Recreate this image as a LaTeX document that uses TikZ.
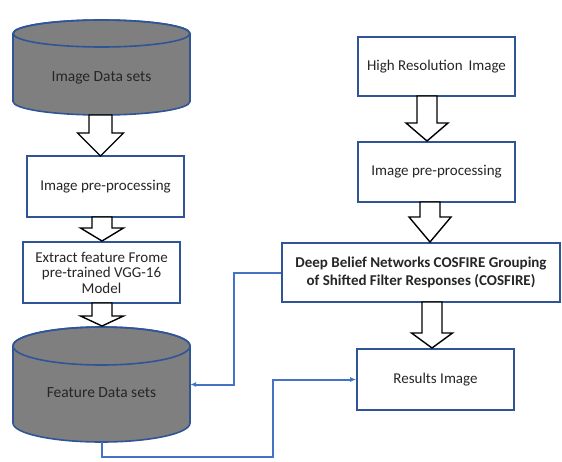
\documentclass[tikz,border=0pt]{standalone}
\usepackage{fontspec}
\setmainfont{Carlito}
\definecolor{boxblue}{HTML}{2F5597}
\definecolor{linkblue}{HTML}{4472C4}
\definecolor{cylgray}{HTML}{7F7F7F}
\definecolor{txt}{HTML}{262626}
\usetikzlibrary{arrows.meta}
\tikzset{
  stepbox/.style={draw=boxblue, line width=1.6pt, fill=white, align=center, text=txt,
    font=\fontsize{15}{15.5}\selectfont, inner sep=2pt},
  conn/.style={draw=linkblue, line width=2pt, -{Latex[length=6pt,width=5pt]}},
  blk/.style={draw=black, line width=1.4pt, fill=white, line join=miter},
  cyl/.style={draw=boxblue, line width=1.6pt, fill=cylgray},
}
\newcommand{\blkarrow}[6]{% xc, ytop, yhead, ytip, shaft half, head half
  \path[blk] (#1-#5,#2) -- (#1+#5,#2) -- (#1+#5,#3) -- (#1+#6,#3) -- (#1,#4) -- (#1-#6,#3) -- (#1-#5,#3) -- cycle;}
\newcommand{\mycyl}[5]{% xl, xr, ytop, ry, ybottom
  \path[cyl] (#1,#3+#4) -- (#1,#5-#4) arc[start angle=180, end angle=0, x radius={(#2-#1)/2}, y radius=#4] -- (#2,#3+#4) arc[start angle=0, end angle=-180, x radius={(#2-#1)/2}, y radius=#4] -- cycle;
  \draw[cyl, fill=none] ({(#1+#2)/2},#3+#4) ellipse[x radius={(#2-#1)/2}, y radius=#4];}
\begin{document}
\begin{tikzpicture}[x=1pt,y=-1pt]
\useasboundingbox (0,0) rectangle (562,461);
% cylinders
\mycyl{13}{190}{20}{13.5}{115}
\node[text=txt, font=\fontsize{15.5}{15.5}\selectfont] (ids) at (101.5,78) {Image Data sets};
\mycyl{13}{190}{327}{19}{442}
\node[minimum width=177pt, minimum height=115pt, inner sep=0pt] (fds) at (101.5,384.5) {};
\node[text=txt, font=\fontsize{15.5}{15.5}\selectfont] (fdstext) at (101.5,393) {Feature Data sets};
% left boxes
\node[stepbox, minimum width=157pt, minimum height=61pt] (pre1) at (105.5,186.5) {Image pre-processing};
\node[stepbox, minimum width=157pt, minimum height=61pt] (ext) at (101.5,272.5) {Extract feature Frome\\pre-trained VGG-16\\Model};
% right boxes
\node[stepbox, minimum width=157pt, minimum height=59pt] (hri) at (436.5,66.5) {High Resolution\, Image};
\node[stepbox, minimum width=157pt, minimum height=60pt] (pre2) at (436.5,172) {Image pre-processing};
\node[stepbox, minimum width=278pt, minimum height=59pt, font=\bfseries\fontsize{15}{18}\selectfont] (dbn) at (421,272.5) {Deep Belief Networks COSFIRE Grouping\\of Shifted Filter Responses (COSFIRE)};
\node[stepbox, minimum width=157pt, minimum height=61pt] (res) at (435.5,379.5) {Results Image};
% block arrows
\blkarrow{100.5}{115}{133}{156}{11.5}{23}
\blkarrow{102}{217}{228}{241}{10}{21.5}
\blkarrow{102}{303}{316}{326}{10}{21.5}
\blkarrow{427}{96}{123}{141}{10}{21}
\blkarrow{430}{202}{217}{242}{10}{21}
\blkarrow{432}{302}{333}{348}{10}{20.5}
% connectors
\coordinate (c1) at (273,457);
\draw[conn] (dbn.west) -- ++(-47,0) |- (fds.east);
\draw[conn] (fds.south) |- (c1) |- (res.west);
\end{tikzpicture}
\end{document}
